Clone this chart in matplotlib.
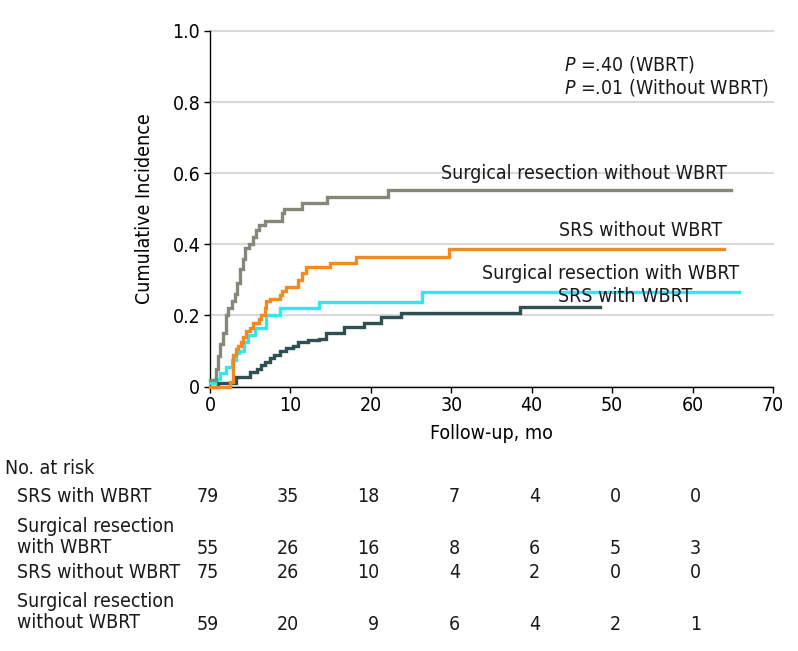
import matplotlib
matplotlib.use("Agg")
import matplotlib.pyplot as plt
from matplotlib import font_manager as fm
from matplotlib import transforms as mtransforms

# ---------------- data ----------------
months_gray = [0, 0.7, 1.0, 1.3, 1.6, 2.0, 2.3, 2.7, 3.1, 3.4, 3.7, 4.1, 4.4, 4.8,
               5.4, 5.7, 6.1, 6.8, 8.9, 9.2, 11.4, 14.6, 22.1, 64.8]
cuminc_gray = [0.017, 0.05, 0.085, 0.12, 0.15, 0.20, 0.22, 0.24, 0.26, 0.29, 0.33,
               0.36, 0.39, 0.40, 0.42, 0.44, 0.455, 0.465, 0.487, 0.50, 0.517,
               0.534, 0.553, 0.553]

months_orange = [0, 2.5, 2.9, 3.2, 3.5, 3.8, 4.1, 4.5, 5.0, 5.4, 6.1, 6.4, 6.8, 7.0,
                 7.4, 8.7, 9.0, 9.4, 10.9, 11.4, 11.9, 14.9, 18.2, 29.7, 63.9]
cuminc_orange = [0.0, 0.012, 0.09, 0.105, 0.115, 0.125, 0.14, 0.155, 0.165, 0.18,
                 0.19, 0.20, 0.22, 0.24, 0.245, 0.258, 0.27, 0.28, 0.30, 0.318,
                 0.335, 0.348, 0.363, 0.386, 0.386]

months_cyan = [0, 0.6, 1.2, 2.0, 2.7, 3.2, 3.6, 4.2, 4.7, 5.6, 7.0, 8.7, 13.5, 26.4, 65.8]
cuminc_cyan = [0.01, 0.02, 0.037, 0.056, 0.075, 0.093, 0.10, 0.125, 0.145, 0.164,
               0.20, 0.22, 0.239, 0.267, 0.267]

months_dark = [0, 1.0, 3.2, 5.0, 5.8, 6.3, 6.8, 7.5, 8.0, 8.7, 9.5, 10.3, 10.9, 12.2,
               13.6, 14.4, 16.7, 19.2, 21.3, 23.7, 38.6, 48.5]
cuminc_dark = [0.0, 0.01, 0.027, 0.041, 0.05, 0.06, 0.07, 0.08, 0.09, 0.10, 0.107,
               0.115, 0.125, 0.13, 0.135, 0.15, 0.166, 0.18, 0.195, 0.206, 0.224, 0.224]

group_labels = ["Surgical resection without WBRT", "SRS without WBRT",
                "Surgical resection with WBRT", "SRS with WBRT"]

x_ticks = [0, 10, 20, 30, 40, 50, 60, 70]
y_ticks = [0, 0.2, 0.4, 0.6, 0.8, 1.0]
y_ticklabels = ["0", "0.2", "0.4", "0.6", "0.8", "1.0"]

risk_times = [0, 10, 20, 30, 40, 50, 60]
risk_row_labels = ["SRS with WBRT", "Surgical resection\nwith WBRT",
                   "SRS without WBRT", "Surgical resection\nwithout WBRT"]
risk_srs_wbrt = [79, 35, 18, 7, 4, 0, 0]
risk_surg_wbrt = [55, 26, 16, 8, 6, 5, 3]
risk_srs_nowbrt = [75, 26, 10, 4, 2, 0, 0]
risk_surg_nowbrt = [59, 20, 9, 6, 4, 2, 1]

p_lines = [("=.40 (WBRT)"), ("=.01 (Without WBRT)")]

# ---------------- fonts ----------------
names = {f.name for f in fm.fontManager.ttflist}
font_kw = {}
if "Liberation Sans Narrow" in names:
    FAM = ["Liberation Sans Narrow", "DejaVu Sans"]
elif any(f.name == "DejaVu Sans" and f.stretch == "condensed" for f in fm.fontManager.ttflist):
    FAM = ["DejaVu Sans", "DejaVu Sans"]
    font_kw = {"stretch": "condensed"}
else:
    FAM = ["Roboto", "DejaVu Sans"]
plt.rcParams["font.family"] = FAM
if font_kw:
    plt.rcParams["font.stretch"] = "condensed"
plt.rcParams["mathtext.fontset"] = "custom"
plt.rcParams["mathtext.it"] = FAM[0] + ":italic"
plt.rcParams["mathtext.rm"] = FAM[0]

FS = 14
W, H = 798, 651
fig = plt.figure(figsize=(W / 100, H / 100), dpi=100)
x0, x1, y0, y1 = 210, 773, 31, 386.5
ax = fig.add_axes([x0 / W, 1 - y1 / H, (x1 - x0) / W, (y1 - y0) / H])

C_GRAY = "#868778"
C_ORANGE = "#f38a20"
C_CYAN = "#2fe8f2"
C_DARK = "#2e5050"

for t, v, c in [(months_dark, cuminc_dark, C_DARK),
                (months_cyan, cuminc_cyan, C_CYAN),
                (months_orange, cuminc_orange, C_ORANGE),
                (months_gray, cuminc_gray, C_GRAY)]:
    ax.step(t, v, where="post", color=c, lw=2.4, clip_on=False, zorder=3,
            solid_joinstyle="miter")

ax.set_xlim(0, 70)
ax.set_ylim(0, 1.0)
ax.set_xticks(x_ticks)
ax.set_yticks(y_ticks)
ax.set_yticklabels(y_ticklabels)
ax.tick_params(axis="both", labelsize=FS, length=4, width=1, color="black", pad=3)
ax.grid(axis="y", color="#d9d9d9", lw=1.5, zorder=0)
for gl in ax.get_ygridlines():
    gl.set_clip_on(False)
ax.set_axisbelow(True)
for s in ["top", "right"]:
    ax.spines[s].set_visible(False)
for s in ["left", "bottom"]:
    ax.spines[s].set_linewidth(1)
    ax.spines[s].set_color("black")

ax.set_xlabel("Follow-up, mo", fontsize=FS, labelpad=6)
ax.set_ylabel("Cumulative Incidence", fontsize=FS, labelpad=13)

# curve labels
label_pos = [(64.3, 0.600), (63.7, 0.440), (65.8, 0.318), (60.0, 0.252)]
for lab, (lx, ly) in zip(group_labels, label_pos):
    ax.text(lx, ly, lab, ha="right", va="center", fontsize=FS, color="#1a1a1a",
            zorder=4)

# P values
ax.text(44.0, 0.905, r"$P$ " + p_lines[0], ha="left", va="center", fontsize=FS,
        color="#1a1a1a")
ax.text(44.0, 0.840, r"$P$ " + p_lines[1], ha="left", va="center", fontsize=FS,
        color="#1a1a1a")

# risk table
fig.text(5 / W, 1 - 469 / H, "No. at risk", ha="left", va="center", fontsize=FS,
         color="#1a1a1a")
row_label_y = [497, 537, 573, 612]
row_num_y = [497, 548, 573, 624]
rows = [risk_srs_wbrt, risk_surg_wbrt, risk_srs_nowbrt, risk_surg_nowbrt]
blend = mtransforms.blended_transform_factory(ax.transData, fig.transFigure)
num_tr = mtransforms.offset_copy(blend, fig=fig, x=8.5, y=0, units="dots")
for lab, ly, ny, vals in zip(risk_row_labels, row_label_y, row_num_y, rows):
    fig.text(17 / W, 1 - ly / H, lab, ha="left", va="center", fontsize=FS,
             color="#1a1a1a", linespacing=1.15)
    for t, n in zip(risk_times, vals):
        fig.text(t, 1 - ny / H, str(n), ha="right", va="center", fontsize=FS,
                 color="#1a1a1a", transform=num_tr)

fig.savefig("out.png", dpi=100)
